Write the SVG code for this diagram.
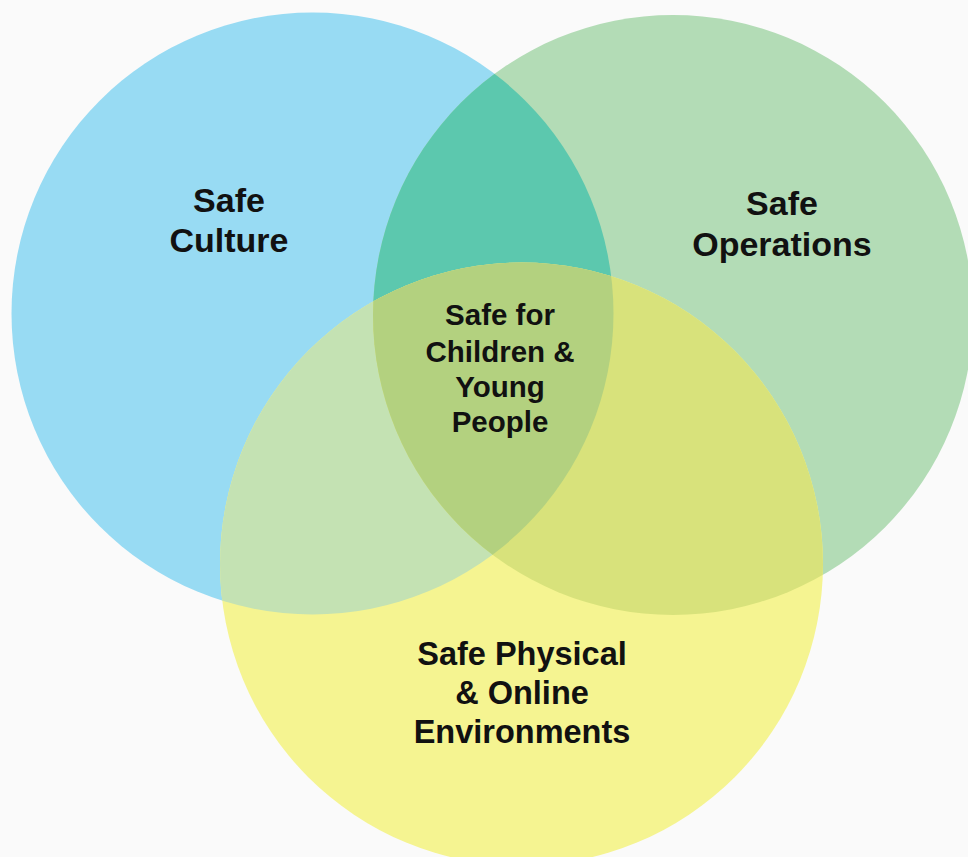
<svg xmlns="http://www.w3.org/2000/svg" width="968" height="857" viewBox="0 0 968 857">
<style>
text{font-family:"Liberation Sans",Arial,Helvetica,sans-serif;font-weight:bold;fill:#111;text-anchor:middle}
.big{font-size:34px}
.mid{font-size:32.5px}
.small{font-size:29.5px}
</style>
<defs>
<clipPath id="cBlue"><circle cx="312.5" cy="313.5" r="301"/></clipPath>
<clipPath id="cGreen"><circle cx="673" cy="315" r="300"/></clipPath>
<clipPath id="cYellow"><circle cx="521.5" cy="564" r="301.5"/></clipPath>
</defs>
<rect width="968" height="857" fill="#fafafa"/>
<g id="circle-culture">
<circle cx="312.5" cy="313.5" r="301" fill="#98dbf3"/>
</g>
<g id="circle-operations">
<circle cx="673" cy="315" r="300" fill="#b3dcb6"/>
</g>
<g id="circle-environments">
<circle cx="521.5" cy="564" r="301.5" fill="#f5f491"/>
</g>
<g id="overlaps">
<g clip-path="url(#cBlue)"><circle cx="673" cy="315" r="300" fill="#5cc8ae"/></g>
<g clip-path="url(#cBlue)"><circle cx="521.5" cy="564" r="301.5" fill="#c4e2b3"/></g>
<g clip-path="url(#cGreen)"><circle cx="521.5" cy="564" r="301.5" fill="#d8e27b"/></g>
<g clip-path="url(#cBlue)"><g clip-path="url(#cGreen)"><circle cx="521.5" cy="564" r="301.5" fill="#b3d17f"/></g></g>
</g>
<g id="label-culture">
<text class="big" x="229" y="212">Safe</text>
<text class="big" x="229" y="252">Culture</text>
</g>
<g id="label-operations">
<text class="big" x="782" y="215">Safe</text>
<text class="big" x="782" y="256">Operations</text>
</g>
<g id="label-center">
<text class="small" x="500" y="325">Safe for</text>
<text class="small" x="500" y="362">Children &amp;</text>
<text class="small" x="500" y="397">Young</text>
<text class="small" x="500" y="432">People</text>
</g>
<g id="label-environments">
<text class="mid" x="522" y="665">Safe Physical</text>
<text class="mid" x="522" y="704">&amp; Online</text>
<text class="mid" x="522" y="743">Environments</text>
</g>
</svg>
